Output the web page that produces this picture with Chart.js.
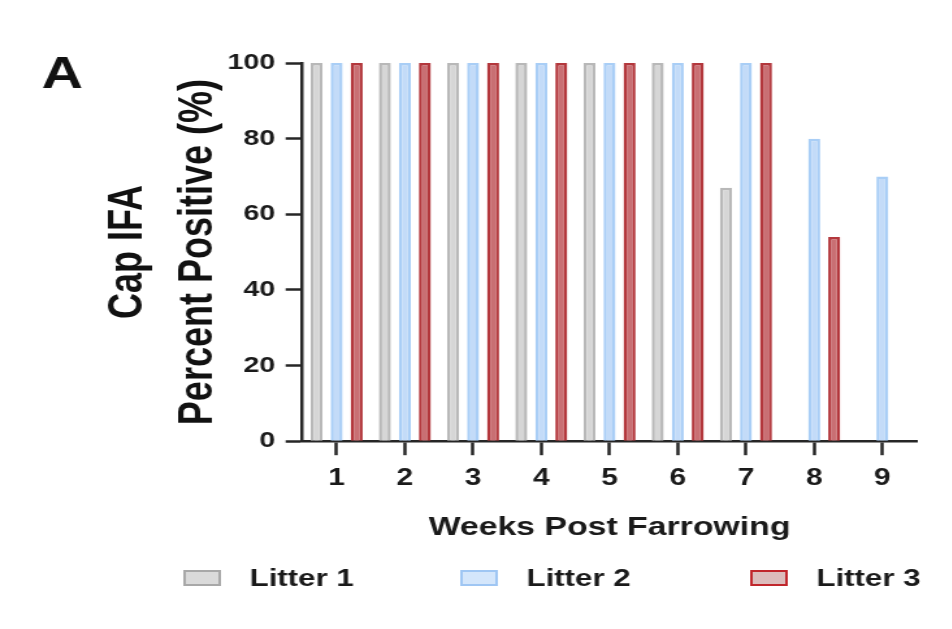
<!DOCTYPE html>
<html>
<head>
<meta charset="utf-8">
<script src="https://cdn.jsdelivr.net/npm/chart.js@4.4.0/dist/chart.umd.min.js"></script>
<style>
  html, body { margin: 0; padding: 0; background: #fff; overflow: hidden; }
  #wrap { width: 732px; height: 629px; transform: scaleX(1.3); transform-origin: 0 0; }
</style>
</head>
<body>
<div id="wrap"><canvas id="cap-ifa" width="732" height="629"></canvas></div>
<script>
// weeks post farrowing
const weeks = ["1", "2", "3", "4", "5", "6", "7", "8", "9"];
// percent positive per litter
const litter1 = [100, 100, 100, 100, 100, 100, 67, null, null];
const litter2 = [100, 100, 100, 100, 100, 100, 100, 80, 70];
const litter3 = [100, 100, 100, 100, 100, 100, 100, 54, null];
const seriesNames = ["Litter 1", "Litter 2", "Litter 3"];
const yMin = 0, yMax = 100, yStep = 20;

const axisColor = "#262626";
const fontFamily = "'Liberation Sans', Arial, sans-serif";

// panel letter + legend row
let extrasPlugin = {
  id: "extras",
  afterDraw: (chart) => {
    const ctx = chart.ctx;
    ctx.save();
    ctx.fillStyle = "#111";
    ctx.font = "bold 44px " + fontFamily;
    ctx.textAlign = "center";
    ctx.textBaseline = "middle";
    ctx.fillText("A", 48, 76);

    const legendX = [142, 355, 578];
    const legendY = 578;
    chart.data.datasets.forEach((ds, i) => {
      ctx.fillStyle = ds.legendFill;
      ctx.strokeStyle = ds.legendBorder;
      ctx.lineWidth = 2;
      ctx.fillRect(legendX[i], legendY - 7, 27, 14);
      ctx.strokeRect(legendX[i], legendY - 7, 27, 14);
      ctx.fillStyle = "#1a1a1a";
      ctx.font = "bold 24px " + fontFamily;
      ctx.textAlign = "left";
      ctx.fillText(ds.label, legendX[i] + 50, legendY + 1);
    });
    ctx.restore();
  },
};

let makeBarGraph = () => {
  const canvas = document.getElementById("cap-ifa");
  const myChart = new Chart(canvas.getContext("2d"), {
    type: "bar",
    data: {
      labels: weeks,
      datasets: [
        {
          label: seriesNames[0],
          data: litter1,
          backgroundColor: "#d6d6d6",
          borderColor: "#b8b8b8",
          legendFill: "#dadada",
          legendBorder: "#a8a8a8",
          borderWidth: 2.5,
        },
        {
          label: seriesNames[1],
          data: litter2,
          backgroundColor: "#c3dbf8",
          borderColor: "#a9cef6",
          legendFill: "#d4e6fb",
          legendBorder: "#9fc6f3",
          borderWidth: 2.5,
        },
        {
          label: seriesNames[2],
          data: litter3,
          backgroundColor: "#c96f73",
          borderColor: "#b3373c",
          legendFill: "#dcbcbc",
          legendBorder: "#c0262c",
          borderWidth: 2.5,
        },
      ],
    },
    options: {
      responsive: false,
      animation: false,
      datasets: {
        bar: { categoryPercentage: 0.88, barPercentage: 0.6 },
      },
      layout: {
        padding: { left: 72, right: 27, top: 63, bottom: 86 },
      },
      plugins: {
        legend: { display: false },
        tooltip: { enabled: false },
      },
      scales: {
        x: {
          offset: true,
          grid: {
            offset: false, // tick marks under the week labels
            drawOnChartArea: false,
            drawTicks: true,
            tickLength: 14,
            tickWidth: 2.5,
            tickColor: axisColor,
          },
          border: { color: axisColor, width: 2.5 },
          ticks: {
            color: "#1a1a1a",
            padding: 10,
            font: { family: fontFamily, size: 23, weight: "bold" },
          },
          title: {
            display: true,
            text: "Weeks Post Farrowing",
            color: "#1a1a1a",
            padding: { top: 9, bottom: 0 },
            font: { family: fontFamily, size: 26, weight: "bold" },
          },
        },
        y: {
          min: yMin,
          max: yMax,
          grid: {
            drawOnChartArea: false,
            drawTicks: true,
            tickLength: 13,
            tickWidth: 2.5,
            tickColor: axisColor,
          },
          border: { color: axisColor, width: 2.5 },
          ticks: {
            stepSize: yStep,
            color: "#1a1a1a",
            padding: 8,
            font: { family: fontFamily, size: 22, weight: "bold" },
          },
          title: {
            display: true,
            text: ["Cap IFA", "Percent Positive (%)"],
            color: "#111",
            padding: { top: 0, bottom: -13 },
            font: { family: fontFamily, size: 36, weight: "bold", lineHeight: 1.5 },
          },
        },
      },
    },
    plugins: [extrasPlugin],
  });
};

makeBarGraph();
</script>
</body>
</html>
